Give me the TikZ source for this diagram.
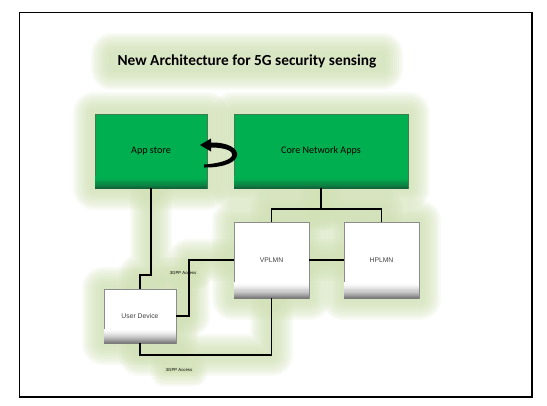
\documentclass[tikz,border=0pt]{standalone}
\usepackage{fontspec}
\setmainfont{Carlito}
\newfontfamily\arialf{Liberation Sans}
\usetikzlibrary{backgrounds}
\definecolor{glowc}{HTML}{D3E2B6}
\definecolor{gbox}{HTML}{00B050}
\definecolor{gdark}{HTML}{12653A}
\definecolor{gborder}{HTML}{3E7D50}
\definecolor{wborder}{HTML}{8C8C8C}
\definecolor{wdark}{HTML}{7A7A7A}
\definecolor{txtgrey}{HTML}{404040}
\newcommand\glowpath[1]{%
  \foreach \w in {32,29,26,23,20,17,14,11,8,5}{\draw[glowc, line width=\w pt, opacity=0.14, line join=round, line cap=round] #1;}}
\newcommand\smallglow[1]{%
  \foreach \w in {20,16,12,8,4}{\draw[glowc, fill=glowc, line width=\w pt, opacity=0.2, line join=round, line cap=round] #1;}}
% bevel: node, top colour, bottom colour, height in pt
\newcommand\bevel[4]{%
  \foreach \i in {0,...,13}{%
    \pgfmathsetmacro\pa{100*((\i+0.5)/14)^1.6}%
    \fill[#3!\pa!#2] ([xshift=0.35pt,yshift={(14-\i)*#4/14*1pt}]#1.south west)
      rectangle ([xshift=-0.35pt,yshift={(13-\i)*#4/14*1pt-0.6pt}]#1.south east);}
  \draw[#3, line width=0.6pt] (#1.south west) -- (#1.south east);}
\begin{document}
\begin{tikzpicture}[x=0.75pt,y=-0.75pt,
  greenbox/.style={draw=gborder, line width=0.5pt, fill=gbox, minimum height=55.5pt,
    inner sep=0pt, font=\fontsize{7.6}{8}\selectfont},
  whitebox/.style={draw=wborder, line width=0.6pt, fill=white, inner sep=0pt,
    font=\arialf\fontsize{5.1}{6}\selectfont, text=txtgrey},
  conn/.style={draw=black, line width=0.9pt},
  lbl/.style={font=\arialf\fontsize{3.2}{4}\selectfont, inner sep=1pt}]
\useasboundingbox (0,0) rectangle (547,405);

% nodes
\node[font=\bfseries\fontsize{11.5}{13}\selectfont, inner sep=0pt] (title) at (247,61.5) {New Architecture for 5G security sensing};
\node[greenbox, minimum width=84pt] (app) at (151,151) {App store};
\node[greenbox, minimum width=130.5pt] (core) at (321,151) {Core Network Apps};
\node[whitebox, minimum width=56.25pt, minimum height=57pt] (vp) at (271.5,260) {VPLMN};
\node[whitebox, minimum width=56.25pt, minimum height=57pt] (hp) at (381.5,260) {HPLMN};
\node[whitebox, minimum width=54pt, minimum height=40.5pt] (ud) at (140,316) {User Device};
\node[lbl] (l1) at (183,273) {3GPP Access};
\node[lbl] (l2) at (179,370) {3GPP Access};

% bevels
\bevel{app}{gbox}{gdark}{9}
\bevel{core}{gbox}{gdark}{9}
\bevel{vp}{white}{wdark}{12}
\bevel{hp}{white}{wdark}{12}
\bevel{ud}{white}{wdark}{11}

% glow
\begin{pgfonlayer}{background}
  \fill[white] (0,0) rectangle (547,405);
  \glowpath{(app.south west) rectangle (app.north east)}
  \glowpath{(core.south west) rectangle (core.north east)}
  \glowpath{(vp.south west) rectangle (vp.north east)}
  \glowpath{(hp.south west) rectangle (hp.north east)}
  \glowpath{(ud.south west) rectangle (ud.north east)}
  \glowpath{(app.south) -- (app.south |- 0,275) -- (ud.north |- 0,275) -- (ud.north)}
  \glowpath{(core.south) -- (core.south |- 0,209)}
  \glowpath{(vp.north) -- (vp.north |- 0,209) -- (hp.north |- 0,209) -- (hp.north)}
  \glowpath{(ud.east) -- (ud.east -| 189,0) -- (189,0 |- vp.west) -- (vp.west)}
  \glowpath{(ud.south) -- (ud.south |- 0,355) -- (vp.south |- 0,355) -- (vp.south)}
  \glowpath{(vp.east) -- (hp.west)}
  \glowpath{([xshift=-4pt]title.south west) rectangle ([xshift=4pt]title.north east)}
  \smallglow{(l1.south west) rectangle (l1.north east)}
  \smallglow{(l2.south west) rectangle (l2.north east)}
\end{pgfonlayer}

% connectors
\draw[conn] (app.south) -- (app.south |- 0,275) -- (ud.north |- 0,275) -- (ud.north);
\draw[conn] (core.south) -- (core.south |- 0,209);
\draw[conn] (vp.north) -- (vp.north |- 0,209) -- (hp.north |- 0,209) -- (hp.north);
\draw[conn] (ud.east) -- (ud.east -| 189,0) -- (189,0 |- vp.west) -- (vp.west);
\draw[conn] (ud.south) -- (ud.south |- 0,355) -- (vp.south |- 0,355) -- (vp.south);
\draw[conn] (vp.east) -- (hp.west);

% u-turn arrow
\fill[black] (204,167.5) .. controls (248,168) and (246,142) .. (211,142.5)
  -- (211,138.5) -- (200,145) -- (211,151.5) -- (211,147.5)
  .. controls (240,147.5) and (241,162) .. (204,164.5) -- cycle;

% frame
\draw[line width=0.9pt] (19.5,12.5) rectangle (532,397);
\end{tikzpicture}
\end{document}
